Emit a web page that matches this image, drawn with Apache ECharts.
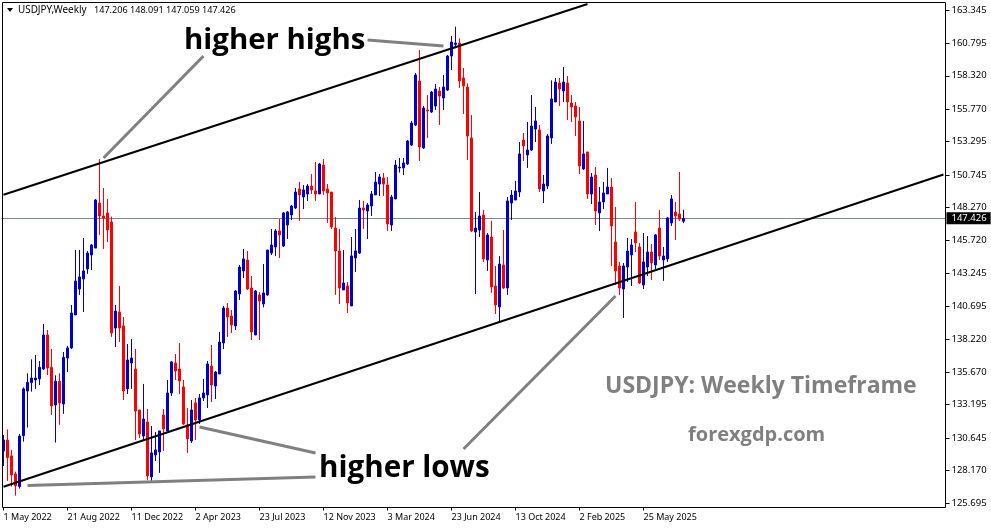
<!DOCTYPE html>
<html><head><meta charset="utf-8">
<style>html,body{margin:0;padding:0;background:#fff}#c{width:991px;height:528px}</style>
<script src="https://cdn.jsdelivr.net/npm/echarts@6/dist/echarts.min.js"></script>
</head><body><div id="c"></div>
<script>
const tickLabels=["1 May 2022","21 Aug 2022","11 Dec 2022","2 Apr 2023","23 Jul 2023","12 Nov 2023","3 Mar 2024","23 Jun 2024","13 Oct 2024","2 Feb 2025","25 May 2025"];
const priceTicks=[163.345,160.795,158.320,155.770,153.295,150.745,148.270,145.720,143.245,140.695,138.220,135.670,133.195,130.645,128.170,125.695];
const lastPrice=147.426;
const opens=[129.66,130.50,129.28,127.90,126.94,130.83,134.24,134.88,135.08,135.16,
135.92,138.52,136.05,133.17,134.98,133.25,136.76,137.53,140.05,142.03,
142.80,143.56,144.63,145.16,148.60,147.61,147.84,147.15,139.05,140.28,
139.21,134.40,136.38,135.92,132.79,130.80,131.87,127.67,129.35,129.58,
132.41,131.19,134.09,136.38,135.92,134.55,131.65,130.42,133.33,132.03,
133.71,133.94,136.15,134.62,135.54,137.91,140.58,139.97,139.21,141.65,
143.41,144.25,142.11,138.52,141.58,140.89,141.58,144.78,145.24,146.47,
145.32,146.92,147.69,148.22,149.67,149.06,149.29,149.90,149.52,149.29,
151.50,149.67,149.44,146.69,144.94,141.96,142.27,140.74,144.40,144.78,
148.22,147.99,148.37,149.22,150.05,150.51,149.98,146.92,148.91,151.28,
151.28,151.58,153.03,154.56,157.92,152.80,155.71,155.55,156.01,157.16,
156.62,157.23,159.83,160.72,160.82,158.15,157.46,153.57,146.39,146.54,
147.69,144.25,146.00,142.26,140.66,143.87,142.11,148.60,148.83,149.44,
153.41,152.27,152.65,154.25,154.18,149.52,149.90,153.57,156.32,157.77,
157.16,157.77,156.24,156.01,154.87,151.20,152.50,149.29,150.74,147.84,
148.68,149.29,149.82,145.62,143.79,142.03,143.71,144.63,146.39,145.24,
142.34,143.71,144.86,143.87,146.69,144.25,144.33,147.08,147.91,147.76,
147.206];
const closes=[130.50,129.15,127.83,126.99,130.80,134.40,134.90,135.23,135.23,136.05,
138.52,136.00,133.10,134.98,133.33,136.81,137.53,140.20,142.64,142.95,
143.41,144.78,145.39,148.83,147.61,147.46,146.54,138.67,140.35,139.05,
134.24,136.61,136.76,132.71,130.96,132.10,127.75,129.51,129.74,131.19,
131.34,134.09,136.46,135.77,135.01,131.72,130.58,132.79,132.03,133.71,
134.09,136.30,134.70,135.69,137.98,140.58,139.89,139.28,141.88,143.71,
144.33,142.03,138.75,141.88,141.12,141.73,145.01,145.39,146.47,146.16,
147.84,147.92,148.37,149.44,149.22,149.60,149.90,149.60,149.29,151.58,
149.52,149.37,146.77,144.94,142.11,142.49,140.97,144.56,144.94,148.22,
148.07,148.45,149.29,150.21,150.59,150.05,147.00,149.06,151.50,151.35,
151.66,153.34,154.71,158.38,152.88,155.86,155.63,157.08,157.31,156.77,
157.46,159.83,160.90,160.82,157.92,157.54,153.72,146.46,146.69,147.61,
144.33,146.16,142.19,140.81,143.94,142.11,148.76,149.21,149.52,152.35,
152.96,152.65,154.48,154.87,149.67,150.05,153.72,156.55,157.84,157.31,
157.84,156.32,155.94,155.17,151.43,152.35,149.29,150.59,147.99,148.68,
149.37,149.82,146.85,143.41,142.11,143.79,144.93,145.39,145.55,142.49,
144.10,144.86,144.02,146.16,144.55,144.55,147.46,148.91,147.61,147.38,
147.426];
const highs=[130.88,131.31,129.74,128.08,130.96,134.52,135.59,136.66,136.99,136.53,
139.36,138.90,137.45,135.44,135.59,137.22,137.68,140.81,145.01,145.01,
145.93,144.94,145.47,148.91,151.96,149.75,148.91,147.56,140.81,142.26,
139.89,137.83,138.21,137.45,132.79,134.78,132.87,131.57,131.11,131.19,
132.87,135.08,136.53,137.07,137.91,135.08,132.94,133.55,133.71,134.01,
135.16,136.53,137.76,135.77,138.75,140.73,140.96,140.43,141.96,143.87,
145.09,144.94,143.03,141.96,141.80,143.94,145.01,146.62,146.62,147.38,
147.92,147.99,148.45,149.75,150.21,149.98,150.05,150.82,151.73,151.66,
151.96,150.05,149.44,147.53,146.62,145.01,142.57,146.00,146.62,148.83,
148.76,148.60,149.52,150.97,150.82,150.89,150.59,149.22,151.89,152.04,
152.04,153.42,154.87,158.53,160.29,156.01,156.85,157.16,157.69,157.46,
158.38,159.91,161.36,162.07,161.18,158.91,157.74,155.32,147.91,149.44,
148.07,146.31,147.23,143.79,144.55,146.54,149.06,149.59,150.29,153.26,
153.95,154.79,156.85,155.94,154.56,150.74,153.87,157.97,158.15,158.15,
158.99,158.30,156.85,156.32,155.94,154.87,152.50,150.89,151.35,149.82,
150.21,151.28,150.51,148.30,144.10,144.02,145.93,145.85,148.68,145.55,
146.31,146.08,145.47,146.23,148.07,145.24,147.53,149.21,148.68,150.97,
148.091];
const lows=[128.51,127.37,126.94,126.25,126.78,130.37,131.44,134.19,134.40,134.70,
135.85,135.46,132.41,130.30,131.65,132.49,135.69,137.45,140.05,141.57,
140.28,143.18,143.48,145.16,146.16,145.09,145.62,138.37,137.60,137.98,
133.55,134.01,134.40,130.50,130.65,130.50,127.45,127.37,128.89,127.98,
129.66,131.19,133.86,135.08,134.01,131.65,129.51,130.27,130.50,131.72,
133.48,132.94,133.40,133.63,135.54,137.45,138.37,138.67,138.90,141.19,
142.87,141.96,138.14,138.52,138.14,140.63,141.50,144.63,144.56,144.40,
145.24,145.85,147.30,148.14,147.23,148.14,148.76,149.29,148.76,149.29,
149.22,147.07,146.62,141.58,140.89,141.96,140.20,140.74,143.33,144.71,
146.62,145.85,147.61,149.22,149.14,149.14,146.47,146.47,148.91,150.92,
150.74,151.50,152.96,154.48,151.81,152.73,153.57,155.48,155.71,154.56,
155.71,157.16,158.76,160.42,157.39,155.40,151.89,146.39,141.65,146.00,
144.10,143.41,141.73,140.12,139.51,142.03,141.58,147.30,149.06,149.06,
151.81,151.28,152.57,153.26,149.44,148.60,149.67,153.11,156.32,156.01,
156.32,154.94,154.79,153.72,150.82,151.12,148.91,148.52,146.92,146.46,
148.14,149.29,143.79,142.34,141.58,139.82,142.57,142.26,144.86,142.42,
142.03,143.03,142.72,143.56,144.25,142.65,144.10,146.85,145.78,147.23,
147.059];
const channelUpper=[[0,149.235],[146,163.80]];
const channelLower=[[0,126.93],[235,150.78]];
const pointerHighLeft=[[50,159.83],[25,152.04]];
const pointerHighRight=[[91,161.05],[110,160.60]];
const pointerLowLeft=[[6,127.03],[78,127.67]];
const pointerLowMid=[[49,131.49],[78,129.50]];
const pointerLowRight=[[115,129.81],[153,141.50]];

const SLOTS=236, TICK_EVERY=16;
const categories=Array.from({length:SLOTS},(_,i)=>(i%TICK_EVERY===0&&tickLabels[i/TICK_EVERY])||'');
const candles=opens.map((o,i)=>[o,closes[i],lows[i],highs[i]]);
const isTick=i=>i%TICK_EVERY===0&&i/TICK_EVERY<tickLabels.length;
const uiFont='"Noto Sans"';
const line=(data,color,width)=>({type:'line',data,symbol:'none',silent:true,z:5,clip:true,
  lineStyle:{color,width,cap:'butt'},itemStyle:{color}});
const chart=echarts.init(document.getElementById('c'),null,{renderer:'canvas'});
chart.setOption({
  animation:false,
  grid:{left:1.5,top:2.5,width:944,height:505,containLabel:false},
  xAxis:{type:'category',data:categories,boundaryGap:true,
    axisLine:{show:false},
    axisTick:{show:true,alignWithLabel:true,interval:isTick,length:3,lineStyle:{color:'#000'}},
    axisLabel:{interval:isTick,align:'left',margin:5,color:'#000',fontFamily:uiFont,fontSize:9,hideOverlap:false},
    splitLine:{show:false}},
  yAxis:{type:'value',position:'right',min:125.34,max:163.918,scale:true,
    axisLine:{show:false},splitLine:{show:false},
    axisTick:{show:true,length:4,customValues:priceTicks,lineStyle:{color:'#000'}},
    axisLabel:{customValues:priceTicks,margin:6,color:'#000',fontFamily:uiFont,fontSize:9.5,formatter:v=>v.toFixed(3)}},
  series:[
    {type:'candlestick',data:candles,barWidth:3,silent:true,z:3,clip:true,
     itemStyle:{color:'#0000CD',color0:'#FF0000',borderColor:'#0000CD',borderColor0:'#FF0000',borderWidth:1},
     markLine:{silent:true,symbol:'none',animation:false,z:2,
       lineStyle:{color:'#778899',width:1,type:'solid'},
       label:{position:'end',formatter:()=>lastPrice.toFixed(3),backgroundColor:'#000',color:'#fff',
         fontFamily:uiFont,fontSize:9.5,padding:[1,4,1,5],distance:1},
       data:[{yAxis:lastPrice}]}},
    line(channelUpper,'#000',2),
    line(channelLower,'#000',2),
    line(pointerHighLeft,'#808080',3),
    line(pointerHighRight,'#808080',3),
    line(pointerLowLeft,'#808080',3),
    line(pointerLowMid,'#808080',3),
    line(pointerLowRight,'#808080',3)
  ],
  graphic:[
    {type:'rect',silent:true,z:10,shape:{x:2.5,y:2.5,width:943,height:505},style:{fill:'none',stroke:'#000',lineWidth:1}},
    {type:'polygon',silent:true,z:11,shape:{points:[[7,8],[13,8],[10,12]]},style:{fill:'#000'}},
    {type:'text',silent:true,z:11,x:18,y:10,style:{text:'USDJPY,Weekly',fill:'#000',font:'9.9px "Noto Sans"',textVerticalAlign:'middle'}},
    {type:'text',silent:true,z:11,x:94,y:10,style:{text:'147.206 148.091 147.059 147.426',fill:'#000',font:'9.1px "Noto Sans"',textVerticalAlign:'middle'}},
    {type:'text',silent:true,z:11,x:184,y:41,style:{text:'higher highs',fill:'#000',font:'bold 29.4px "Open Sans"',textVerticalAlign:'middle'}},
    {type:'text',silent:true,z:11,x:319,y:469,style:{text:'higher lows',fill:'#000',font:'bold 29.6px "Open Sans"',textVerticalAlign:'middle'}},
    {type:'text',silent:true,z:11,x:605,y:386,style:{text:'USDJPY: Weekly Timeframe',fill:'#808080',font:'bold 23px "Open Sans"',textVerticalAlign:'middle'}},
    {type:'text',silent:true,z:11,x:688,y:435,style:{text:'forexgdp.com',fill:'#808080',font:'bold 20px "Open Sans"',textVerticalAlign:'middle'}}
  ]
});
</script></body></html>
